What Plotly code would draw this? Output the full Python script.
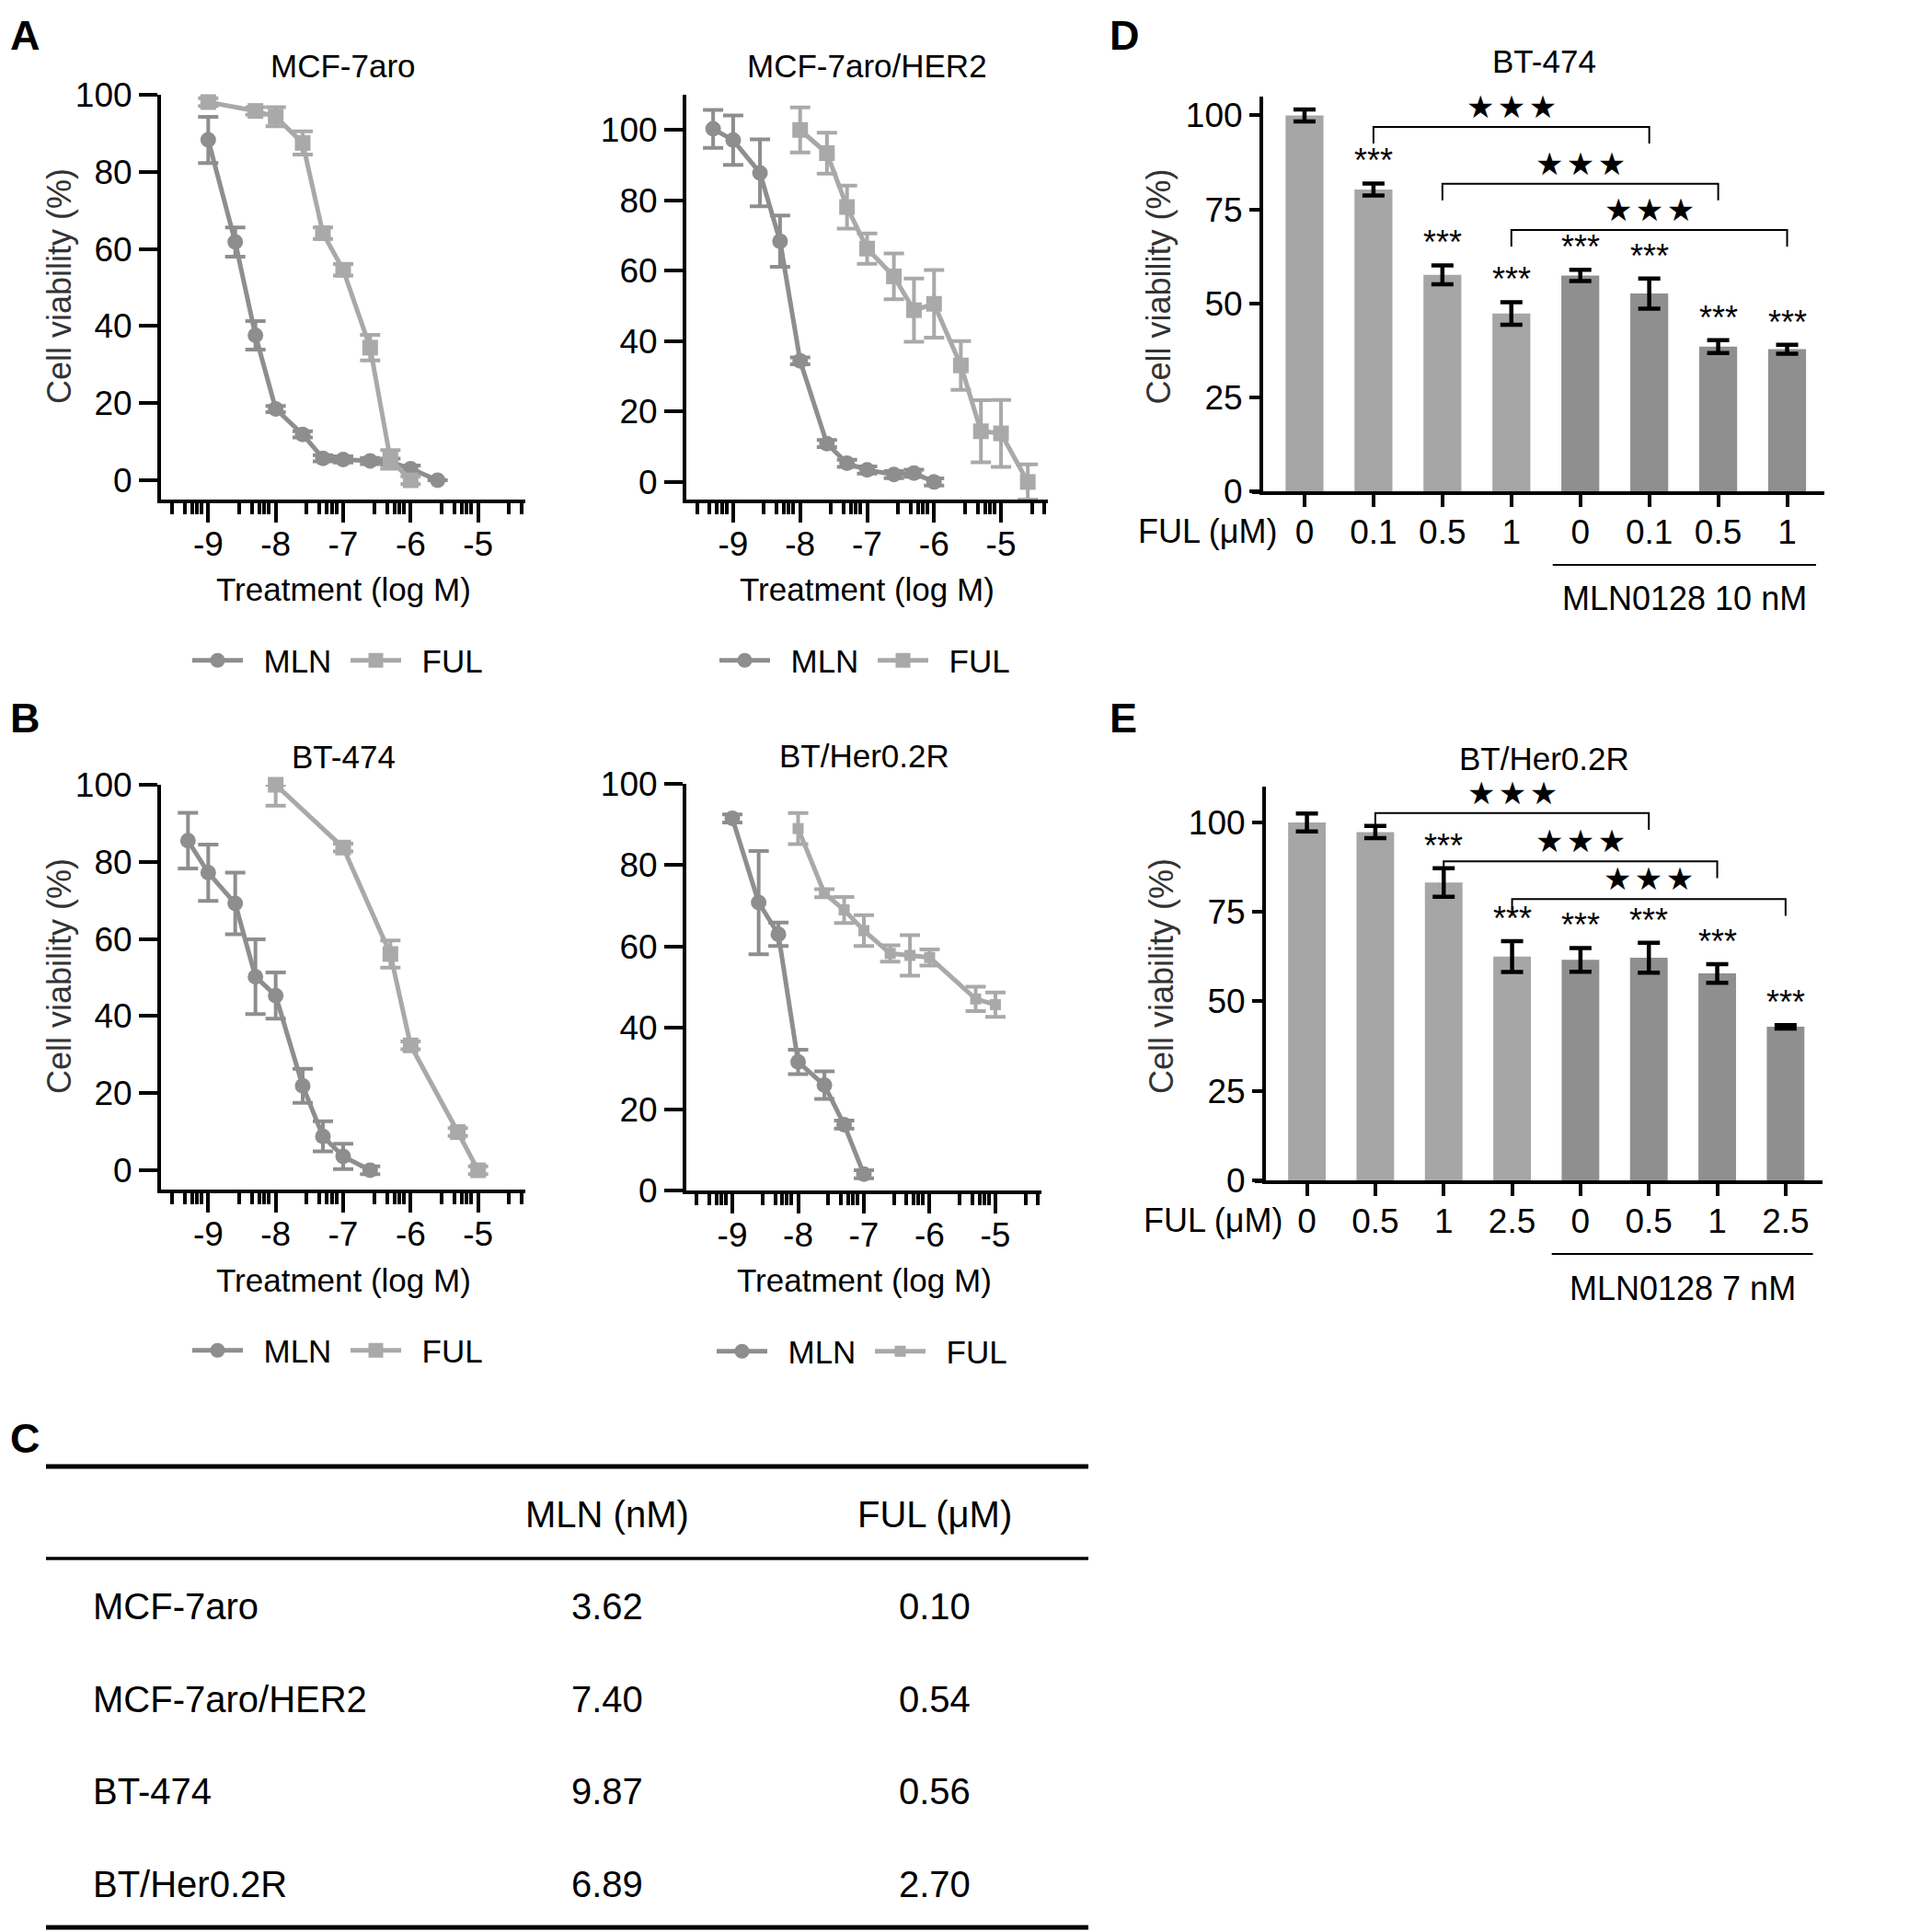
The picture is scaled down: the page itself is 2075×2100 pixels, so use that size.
import math
import plotly.graph_objects as go

W, H = 2075, 2100
OFF = 8  # the page body adds an 8 px margin around the figure
FONT = "Arial, 'Liberation Sans', sans-serif"
MLN_COLOR = "#8e8e8e"
FUL_COLOR = "#a9a9a9"
BAR_LIGHT = "#a6a6a6"
BAR_DARK = "#8f8f8f"

# ---- A: MCF-7aro ----
mcf_mln_x = [-9, -8.6, -8.3, -8, -7.6, -7.3, -7, -6.6, -6.3, -6, -5.6]
mcf_mln_y = [88.3, 61.8, 37.6, 18.5, 11.9, 5.7, 5.4, 5.0, 4.8, 3.0, 0]
mcf_mln_err = [6, 3.8, 3.7, 0.8, 0.8, 0.8, 0.8, 0.8, 0.8, 0.8, 0]
mcf_ful_x = [-9, -8.3, -8, -7.6, -7.3, -7, -6.6, -6.3, -6]
mcf_ful_y = [98.1, 95.8, 94.3, 87.5, 64.1, 54.6, 34.4, 5.4, 0]
mcf_ful_err = [1, 1, 2.5, 3, 1.5, 1.5, 3.3, 2.4, 1]

# ---- A: MCF-7aro/HER2 ----
her2_mln_x = [-9.3, -9, -8.6, -8.3, -8, -7.6, -7.3, -7, -6.6, -6.3, -6]
her2_mln_y = [100.3, 97.1, 87.8, 68.4, 34.4, 10.9, 5.3, 3.4, 2.1, 2.5, 0]
her2_mln_err = [5.4, 7, 9.5, 7.3, 1, 1, 1, 1, 1, 1, 1]
her2_ful_x = [-8, -7.6, -7.3, -7, -6.6, -6.3, -6, -5.6, -5.3, -5, -4.6]
her2_ful_y = [100, 93.4, 78.1, 66.3, 58.4, 48.8, 50.6, 33.1, 14.4, 13.8, 0]
her2_ful_err = [6.4, 5.8, 6.1, 4.3, 6.5, 9, 9.6, 6.9, 8.8, 9.5, 5]

# ---- B: BT-474 ----
bt_mln_x = [-9.3, -9, -8.6, -8.3, -8, -7.6, -7.3, -7, -6.6]
bt_mln_y = [85.5, 77.2, 69.2, 50.2, 45.3, 21.9, 8.8, 3.6, 0]
bt_mln_err = [7.2, 7.3, 8, 9.7, 6, 4.4, 3.9, 3.3, 1]
bt_ful_x = [-8, -7, -6.3, -6, -5.3, -5]
bt_ful_y = [100, 83.7, 56.1, 32.4, 9.9, 0]
bt_ful_err_up = [0, 1, 3.5, 1, 1, 1]
bt_ful_err_dn = [5.4, 1, 3.5, 1, 1, 1]

# ---- B: BT/Her0.2R ----
btr_mln_x = [-9, -8.6, -8.3, -8, -7.6, -7.3, -7]
btr_mln_y = [91.5, 70.8, 63, 31.6, 25.9, 16.2, 4.0]
btr_mln_err = [1, 12.7, 2.9, 3, 3.4, 1, 1]
btr_ful_x = [-8, -7.6, -7.3, -7, -6.6, -6.3, -6, -5.3, -5]
btr_ful_y = [89, 73.1, 69, 63.9, 58.3, 57.8, 57.3, 47.1, 45.7]
btr_ful_err = [3.8, 1, 3.2, 3.8, 2, 5, 2, 3, 3]

log_ticks = [-9, -8, -7, -6, -5]
log_tick_text = ["-9", "-8", "-7", "-6", "-5"]

# ---- D: BT-474 bars ----
d_ful_labels = ["0", "0.1", "0.5", "1", "0", "0.1", "0.5", "1"]
d_viability = [100, 80.3, 57.6, 47.3, 57.4, 52.6, 38.5, 37.8]
d_err = [1.6, 1.6, 2.5, 3, 1.5, 4, 1.7, 1.2]
d_sig = ["", "***", "***", "***", "***", "***", "***", "***"]
d_pair_tops = [96.9, 81.8, 69.5]

# ---- E: BT/Her0.2R bars ----
e_ful_labels = ["0", "0.5", "1", "2.5", "0", "0.5", "1", "2.5"]
e_viability = [100, 97.3, 83.2, 62.5, 61.6, 62.2, 57.8, 42.9]
e_err = [2.5, 1.7, 4, 4.3, 3.3, 4.2, 2.6, 0.5]
e_sig = ["", "", "***", "***", "***", "***", "***", "***"]
e_pair_tops = [102.6, 89.1, 78.6]

bar_group = ["FUL"] * 4 + ["FUL+MLN"] * 4
pairs = [(1, 5), (2, 6), (3, 7)]

# ---- C: IC50 table ----
table_cells = ["MCF-7aro", "MCF-7aro/HER2", "BT-474", "BT/Her0.2R"]
ic50_mln = ["3.62", "7.40", "9.87", "6.89"]
ic50_ful = ["0.10", "0.54", "0.56", "2.70"]


def px(x):
    return (x - OFF) / W


def py(y):
    return 1 - (y - OFF) / H


fig = go.Figure()
layout = {}
annotations = []
shapes = []


def text(x, y, s, size, **kw):
    d = dict(x=px(x), y=py(y), xref="paper", yref="paper", text=s, showarrow=False,
             xanchor="center", yanchor="middle",
             font=dict(size=size, color=kw.pop("color", "black"), family=FONT))
    d.update(kw)
    annotations.append(d)


# minor ticks of the log axis, as placed in each decade of the original
minor_vals = [d + f for d in range(-10, -4) for f in (0.46, 0.65, 0.76, 0.83, 0.9)]
minor_vals = [v for v in minor_vals if -9.7 < v < -4.3]

curve_panels = [
    dict(title="MCF-7aro", box=(175, 571, 103, 543), yr=[-5, 100], ylab=True, leg=204,
         mln=(mcf_mln_x, mcf_mln_y, mcf_mln_err, mcf_mln_err),
         ful=(mcf_ful_x, mcf_ful_y, mcf_ful_err, mcf_ful_err), fsize=17),
    dict(title="MCF-7aro/HER2", box=(746, 1139, 103, 543), yr=[-5, 110], ylab=False, leg=777,
         mln=(her2_mln_x, her2_mln_y, her2_mln_err, her2_mln_err),
         ful=(her2_ful_x, her2_ful_y, her2_ful_err, her2_ful_err), fsize=17),
    dict(title="BT-474", box=(175, 571, 853, 1293), yr=[-5, 100], ylab=True, leg=204,
         mln=(bt_mln_x, bt_mln_y, bt_mln_err, bt_mln_err),
         ful=(bt_ful_x, bt_ful_y, bt_ful_err_up, bt_ful_err_dn), fsize=17),
    dict(title="BT/Her0.2R", box=(746, 1132, 852, 1294), yr=[0, 100], ylab=False, leg=774,
         mln=(btr_mln_x, btr_mln_y, btr_mln_err, btr_mln_err),
         ful=(btr_ful_x, btr_ful_y, btr_ful_err, btr_ful_err), fsize=12),
]

for n, p in enumerate(curve_panels, start=1):
    ax = "" if n == 1 else str(n)
    leg = "legend" if n == 1 else "legend%d" % n
    x0, x1, y0, y1 = p["box"]
    for name, ser, sym, col, size in [("MLN", p["mln"], "circle", MLN_COLOR, 17),
                                      ("FUL", p["ful"], "square", FUL_COLOR, p["fsize"])]:
        xs, ys, eu, ed = ser
        fig.add_trace(go.Scatter(
            x=xs, y=ys, mode="lines+markers", name="\u2002" + name,
            line=dict(color=col, width=5),
            marker=dict(symbol=sym, size=size, color=col),
            error_y=dict(type="data", array=eu, arrayminus=ed, symmetric=False,
                         color=col, thickness=4, width=11),
            cliponaxis=False, xaxis="x" + ax, yaxis="y" + ax, legend=leg))
    layout["xaxis" + ax] = dict(
        domain=[px(x0), px(x1)], range=[-9.7, -4.3], anchor="y" + ax, automargin=False,
        tickmode="array", tickvals=log_ticks, ticktext=log_tick_text,
        ticks="outside", ticklen=21, tickwidth=4, tickcolor="black",
        showline=True, linewidth=4, linecolor="black", showgrid=False, zeroline=False,
        tickfont=dict(size=37, color="black", family=FONT), ticklabelstandoff=-8,
        minor=dict(tickmode="array", tickvals=minor_vals, ticks="outside", ticklen=12,
                   tickwidth=4, tickcolor="black", showgrid=False))
    layout["yaxis" + ax] = dict(
        domain=[py(y1), py(y0)], range=p["yr"], anchor="x" + ax, automargin=False,
        tickmode="array", tickvals=[0, 20, 40, 60, 80, 100],
        ticks="outside", ticklen=20, tickwidth=4, tickcolor="black",
        showline=True, linewidth=4, linecolor="black", showgrid=False, zeroline=False,
        tickfont=dict(size=37, color="black", family=FONT))
    layout[leg] = dict(
        x=px(p["leg"]), y=py(y1 + 175), xanchor="left", yanchor="middle",
        orientation="h", itemwidth=55, entrywidth=102, entrywidthmode="pixels",
        font=dict(size=35, color="black", family=FONT), bgcolor="rgba(0,0,0,0)",
        itemclick=False)
    cx = (x0 + x1) / 2
    text(cx, y0 - 31, p["title"], 35)
    text(cx, y1 + 98, "Treatment (log M)", 35)
    if p["ylab"]:
        text(64, (y0 + y1) / 2 - 12, "Cell viability (%)", 36, textangle=-90, color="#333333")

bar_panels = [
    dict(title="BT-474", box=(1373, 1983, 105, 534), yr=[0, 105], title_y=67,
         labels=d_ful_labels, vals=d_viability, err=d_err, sig=d_sig, tops=d_pair_tops,
         drop=4.4, mln="MLN0128 10 nM", ful_x=1312, ul=(3.6, 7.42)),
    dict(title="BT/Her0.2R", box=(1376, 1981, 855, 1283), yr=[0, 110], title_y=824,
         labels=e_ful_labels, vals=e_viability, err=e_err, sig=e_sig, tops=e_pair_tops,
         drop=4.7, mln="MLN0128 7 nM", ful_x=1318, ul=(3.58, 7.4)),
]

for k, p in enumerate(bar_panels):
    n = 5 + k
    ax = str(n)
    x0, x1, y0, y1 = p["box"]
    idx = list(range(len(p["vals"])))
    colors = [BAR_LIGHT if g == "FUL" else BAR_DARK for g in bar_group]
    fig.add_trace(go.Bar(
        x=idx, y=p["vals"], width=0.55, marker=dict(color=colors, line=dict(width=0)),
        error_y=dict(type="data", array=p["err"], color="black", thickness=4.5, width=12),
        showlegend=False, xaxis="x" + ax, yaxis="y" + ax))
    layout["xaxis" + ax] = dict(
        domain=[px(x0), px(x1)], range=[-0.6, 7.54], anchor="y" + ax, automargin=False,
        tickmode="array", tickvals=idx, ticktext=p["labels"],
        ticks="outside", ticklen=13, tickwidth=4, tickcolor="black",
        showline=True, linewidth=4, linecolor="black", showgrid=False, zeroline=False,
        tickfont=dict(size=37, color="black", family=FONT), ticklabelstandoff=-4)
    layout["yaxis" + ax] = dict(
        domain=[py(y1), py(y0)], range=p["yr"], anchor="x" + ax, automargin=False,
        tickmode="array", tickvals=[0, 25, 50, 75, 100],
        ticks="outside", ticklen=11, tickwidth=4, tickcolor="black",
        showline=True, linewidth=4, linecolor="black", showgrid=False, zeroline=False,
        tickfont=dict(size=37, color="black", family=FONT))
    # x axis line runs a little past the y axis, as in the original
    shapes.append(dict(type="line", xref="paper", yref="paper",
                       x0=px(x0 - 12), x1=px(x0), y0=py(y1 + 1), y1=py(y1 + 1),
                       line=dict(color="black", width=4)))
    for i, s in enumerate(p["sig"]):
        if s:
            annotations.append(dict(
                x=i, y=p["vals"][i] + p["err"][i], xref="x" + ax, yref="y" + ax,
                text=s, showarrow=False, xanchor="center", yanchor="bottom", yshift=2,
                font=dict(size=36, color="black", family=FONT)))
    for (a, b), top in zip(pairs, p["tops"]):
        shapes.append(dict(
            type="path", xref="x" + ax, yref="y" + ax,
            path="M %s,%s L %s,%s L %s,%s L %s,%s" % (a, top - p["drop"], a, top, b, top, b, top - p["drop"]),
            line=dict(color="black", width=2)))
        annotations.append(dict(
            x=(a + b) / 2, y=top, xref="x" + ax, yref="y" + ax, text="★\u200a★\u200a★",
            showarrow=False, xanchor="center", yanchor="bottom", yshift=0,
            font=dict(size=34, color="black", family="DejaVu Sans")))
    cx = (x0 + x1) / 2
    text(cx, p["title_y"], p["title"], 35)
    lab_y = y1 + 44
    text(p["ful_x"], lab_y, "FUL (μM)", 36)
    shapes.append(dict(type="line", xref="x" + ax, yref="paper",
                       x0=p["ul"][0], x1=p["ul"][1], y0=py(y1 + 80), y1=py(y1 + 80),
                       line=dict(color="black", width=2)))
    annotations.append(dict(
        x=sum(p["ul"]) / 2, y=py(y1 + 117), xref="x" + ax, yref="paper",
        xanchor="center", yanchor="middle",
        text=p["mln"], showarrow=False, font=dict(size=36, color="black", family=FONT)))
    text(x0 - 114, (y0 + y1) / 2 - 8, "Cell viability (%)", 36, textangle=-90, color="#333333")

# ---- panel C: table ----
for yy, wd in [(1594, 5), (1694, 3.5), (2095, 5)]:
    shapes.append(dict(type="line", xref="paper", yref="paper", x0=px(50), x1=px(1183),
                       y0=py(yy), y1=py(yy), line=dict(color="black", width=wd)))
text(660, 1646, "MLN (nM)", 40)
text(1016, 1646, "FUL (μM)", 40)
for r, (c, m, f) in enumerate(zip(table_cells, ic50_mln, ic50_ful)):
    yy = 1746 + r * 100.5
    text(99, yy, c, 40, xanchor="left")
    text(660, yy, m, 40)
    text(1016, yy, f, 40)

# ---- panel letters ----
for lab, x, y in [("A", 9, 39), ("B", 9, 781), ("C", 9, 1563), ("D", 1204, 39), ("E", 1204, 781)]:
    text(x, y, "<b>%s</b>" % lab, 45, xanchor="left")

fig.update_layout(**layout)
fig.update_layout(
    width=W, height=H, margin=dict(l=0, r=0, t=0, b=0, autoexpand=False),
    paper_bgcolor="white", plot_bgcolor="white",
    font=dict(family=FONT, color="black"),
    annotations=annotations, shapes=shapes, bargap=0.3)

fig.write_html("out.html", config={"displayModeBar": False})
